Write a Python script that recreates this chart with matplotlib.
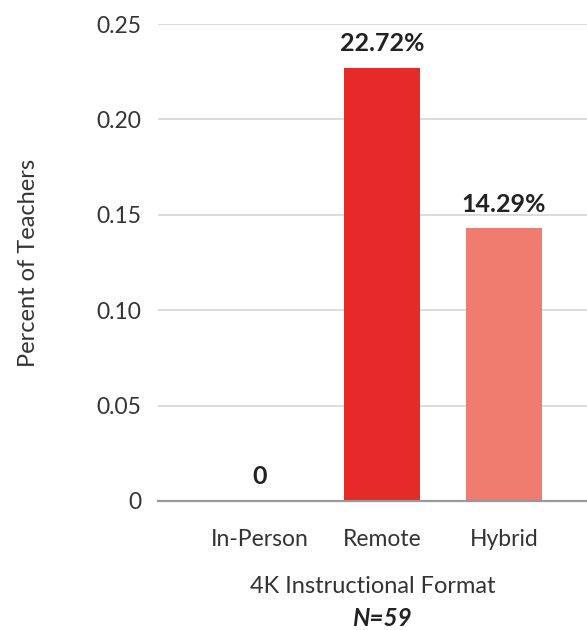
import matplotlib.pyplot as plt
from matplotlib.ticker import FuncFormatter

# --- dati ---
categories = ["In-Person", "Remote", "Hybrid"]
values = [0.0, 0.2272, 0.1429]
value_labels = ["0", "22.72%", "14.29%"]
bar_colors = ["#E52A27", "#E52A27", "#F07C6F"]
y_ticks = [0, 0.05, 0.10, 0.15, 0.20, 0.25]

plt.rcParams["font.family"] = ["Lato", "DejaVu Sans"]

fig = plt.figure(figsize=(5.87, 6.30), dpi=100)
ax = fig.add_axes([158 / 587, 0.2048, 1 - 158 / 587, 0.7571])

x = list(range(len(categories)))
bars = ax.bar(x, values, width=0.62, color=bar_colors, zorder=3)

# etichette sopra le barre
for bar, lab in zip(bars, value_labels):
    ax.annotate(lab, (bar.get_x() + bar.get_width() / 2, bar.get_height()),
                xytext=(0, 9), textcoords="offset points",
                ha="center", va="bottom", fontsize=18, fontweight="bold",
                color="#222222")

ax.set_xlim(-0.836, 2.68)
ax.set_ylim(0, 0.25)
ax.set_yticks(y_ticks)
ax.yaxis.set_major_formatter(FuncFormatter(lambda v, p: "0" if v == 0 else f"{v:.2f}"))
ax.set_xticks(x)
ax.set_xticklabels(categories)

ax.grid(axis="y", color="#d6d6d6", linewidth=1.2, zorder=0)
for s in ["top", "right", "left"]:
    ax.spines[s].set_visible(False)
ax.spines["bottom"].set_color("#999999")
ax.spines["bottom"].set_linewidth(1.6)
ax.spines["bottom"].set_zorder(4)

ax.tick_params(axis="y", length=0, pad=12, labelsize=16.5, labelcolor="#333333")
ax.tick_params(axis="x", length=0, pad=20, labelsize=16.5, labelcolor="#333333")

ax.set_ylabel("Percent of Teachers", fontsize=17, color="#333333", labelpad=41)
ax.set_xlabel("4K Instructional Format", fontsize=17, color="#333333", labelpad=19)

fig.text(ax.get_position().x0 + ax.get_position().width * (1.836 / 3.516), 1 - 619 / 630,
         "N=59", ha="center", va="center", fontsize=17.5,
         fontweight="bold", fontstyle="italic", color="#222222")

fig.savefig("out.png", dpi=100)
